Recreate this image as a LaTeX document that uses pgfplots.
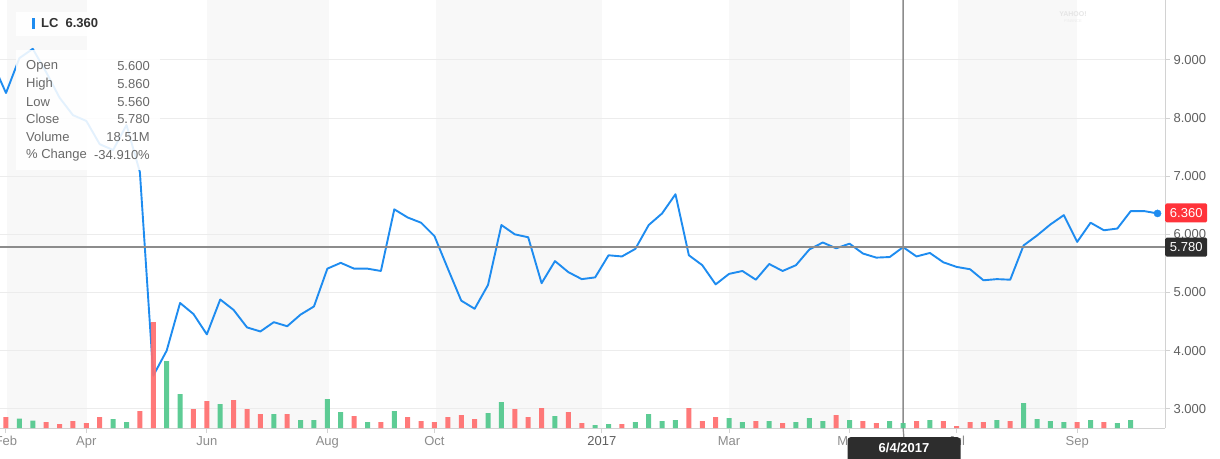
\documentclass[border=0pt]{standalone}
\usepackage{fontspec}
\setmainfont{Liberation Sans}
\usepackage{pgfplots}
\usepackage{pgfplotstable}
\pgfplotsset{compat=1.18}

\definecolor{lineblue}{RGB}{30,140,240}
\definecolor{volred}{RGB}{255,110,110}
\definecolor{volgreen}{RGB}{80,200,140}
\definecolor{band}{RGB}{248,248,248}
\definecolor{gridc}{RGB}{236,236,236}
\definecolor{axisc}{RGB}{210,210,210}
\definecolor{ticklab}{RGB}{95,95,95}
\definecolor{xlab}{RGB}{140,140,140}
\definecolor{cross}{RGB}{140,140,140}
\definecolor{darkbox}{RGB}{45,45,45}
\definecolor{pricered}{RGB}{255,51,58}
\definecolor{tiptext}{RGB}{105,105,105}

% weekly closes, week 0 = first week of Feb 2016
\pgfplotstableread{
k close
-1 8.95
0 8.43
1 9.03
2 9.19
3 8.79
4 8.35
5 8.05
6 7.95
7 7.55
8 7.45
9 7.88
10 7.07
11 3.57
12 4.00
13 4.82
14 4.63
15 4.28
16 4.88
17 4.70
18 4.40
19 4.33
20 4.49
21 4.42
22 4.62
23 4.76
24 5.41
25 5.51
26 5.41
27 5.41
28 5.37
29 6.43
30 6.29
31 6.20
32 5.97
33 5.41
34 4.86
35 4.72
36 5.13
37 6.16
38 6.00
39 5.95
40 5.16
41 5.54
42 5.35
43 5.23
44 5.26
45 5.64
46 5.62
47 5.75
48 6.16
49 6.36
50 6.69
51 5.64
52 5.47
53 5.14
54 5.32
55 5.37
56 5.22
57 5.49
58 5.37
59 5.47
60 5.74
61 5.86
62 5.76
63 5.84
64 5.67
65 5.60
66 5.61
67 5.78
68 5.62
69 5.68
70 5.52
71 5.44
72 5.40
73 5.21
74 5.23
75 5.22
76 5.81
77 5.98
78 6.17
79 6.33
80 5.87
81 6.20
82 6.07
83 6.10
84 6.40
85 6.40
86 6.36
}\pricetab

% volume in millions, down weeks
\pgfplotstableread{
k vol
0 40.7
3 22.2
4 14.8
5 25.9
6 18.5
7 40.7
10 62.9
11 392.2
14 70.3
15 99.9
17 103.6
18 70.3
19 51.8
21 51.8
26 44.4
28 22.2
30 40.7
31 25.9
32 22.2
33 40.7
34 48.1
35 33.3
38 70.3
39 40.7
40 74.0
42 59.2
43 18.5
46 14.8
51 74.0
52 25.9
53 40.7
56 25.9
58 18.5
62 48.1
64 25.9
65 18.5
68 25.9
70 25.9
71 7.4
72 22.2
73 22.2
75 25.9
80 22.2
82 22.2
}\voldown

% volume in millions, up weeks
\pgfplotstableread{
k vol
1 34.4
2 27.0
8 33.3
9 22.2
12 247.9
13 125.8
16 88.8
20 51.8
22 29.6
23 29.6
24 107.3
25 59.2
27 22.2
29 62.9
36 55.5
37 96.2
41 44.4
44 11.1
45 14.8
47 22.2
48 51.8
49 25.9
50 29.6
54 37.0
55 22.2
57 25.9
59 22.2
60 37.0
61 25.9
63 29.6
66 25.9
67 18.5
69 29.6
74 29.6
76 92.5
77 33.3
78 25.9
79 22.2
81 29.6
83 18.5
84 29.6
}\volup

\begin{document}
\begin{tikzpicture}[x=1pt,y=1pt]
\begin{axis}[
    at={(0,0)}, anchor=south west,
    scale only axis, width=1165pt, height=428pt,
    set layers, clip mode=individual,
    xmin=-0.448, xmax=86.56,
    ymin=2.67, ymax=10.03,
    axis x line*=bottom, axis y line*=right,
    axis line style={-, draw=axisc, line width=1pt},
    tick align=outside, major tick length=5pt,
    tick style={draw=axisc, line width=1pt},
    xtick={0,6,15,24,32,44.5,54,63,71,80},
    xticklabels={Feb,Apr,Jun,Aug,Oct,\textcolor{ticklab}{2017},Mar,May,Jul,Sep},
    xticklabel style={font=\fontsize{13}{15}\selectfont, text=xlab},
    ytick={3,4,5,6,7,8,9},
    yticklabel style={font=\fontsize{13}{15}\selectfont, text=ticklab},
    /pgf/number format/.cd, fixed, fixed zerofill, precision=3, assume math mode=true,
    /pgfplots/.cd,
    ymajorgrids, grid style={draw=gridc, line width=0.9pt},
]
\begin{pgfonlayer}{axis background}
\fill[band] (axis cs:0.075,2.67) rectangle (axis cs:6.05,10.03);
\fill[band] (axis cs:15.01,2.67) rectangle (axis cs:24.12,10.03);
\fill[band] (axis cs:32.11,2.67) rectangle (axis cs:44.51,10.03);
\fill[band] (axis cs:54.0,2.67) rectangle (axis cs:63.03,10.03);
\fill[band] (axis cs:71.1,2.67) rectangle (axis cs:79.99,10.03);
\end{pgfonlayer}
\addplot[lineblue, line width=1.9pt, line join=round] table[x=k, y=close] {\pricetab};
\addplot[only marks, mark=*, mark size=3.6pt, lineblue] coordinates {(86,6.36)};
% crosshair at week of 6/4/2017
\draw[cross, line width=1.3pt] (axis cs:67,10.03) -- (axis cs:67,2.67) -- ++(0,-10pt);
\draw[cross, line width=1.3pt] (axis cs:-0.448,5.78) -- (axis cs:86.56,5.78);
\node[anchor=west, fill=pricered, text=white, rounded corners=1.5pt, inner sep=0pt,
      minimum width=42pt, minimum height=19pt,
      font=\fontsize{13}{15}\selectfont] at (axis cs:86.56,6.37) {6.360};
\node[anchor=west, fill=darkbox, text=white, rounded corners=1.5pt, inner sep=0pt,
      minimum width=42pt, minimum height=19pt,
      font=\fontsize{13}{15}\selectfont] at (axis cs:86.56,5.78) {5.780};
\end{axis}

\begin{axis}[
    at={(0,0)}, anchor=south west,
    scale only axis, width=1165pt, height=428pt,
    xmin=-0.448, xmax=86.56,
    ymin=0, ymax=1583.6,
    hide axis,
    ybar=0pt, bar width=5pt,
]
\addplot[fill=volred, draw=none, fill opacity=0.92, bar shift=0pt] table[x=k, y=vol] {\voldown};
\addplot[fill=volgreen, draw=none, fill opacity=0.92, bar shift=0pt] table[x=k, y=vol] {\volup};
\end{axis}

% date flag of the crosshair
\node[anchor=north, fill=darkbox, text=white, rounded corners=3pt, minimum width=113pt,
      minimum height=26pt] at (904,-9) {};
\node[text=white, font=\bfseries\fontsize{13}{15}\selectfont] at (904,-19.5) {6/4/2017};

% tooltip
\fill[white, fill opacity=0.9] (16,392) rectangle (104,416);
\fill[lineblue] (32,399) rectangle (35,410);
\node[anchor=west, inner sep=0pt, text={rgb,255:red,50;green,50;blue,50},
      font=\bfseries\fontsize{13}{15}\selectfont] at (41,404.5) {LC\hspace{7pt}6.360};
\fill[white, fill opacity=0.88] (16,258) rectangle (160,378);
\begin{scope}[every node/.style={inner sep=0pt, text=tiptext, font=\fontsize{13}{15}\selectfont}]
\node[anchor=west] at (26,362) {Open};     \node[anchor=east] at (150,362) {5.600};
\node[anchor=west] at (26,344) {High};     \node[anchor=east] at (150,344) {5.860};
\node[anchor=west] at (26,326) {Low};      \node[anchor=east] at (150,326) {5.560};
\node[anchor=west] at (26,309) {Close};    \node[anchor=east] at (150,309) {5.780};
\node[anchor=west] at (26,291) {Volume};   \node[anchor=east] at (150,291) {18.51M};
\node[anchor=west] at (26,273) {\% Change}; \node[anchor=east] at (150,273) {-34.910\%};
\end{scope}

% faint watermark
\node[text=black!10, font=\bfseries\fontsize{7}{8}\selectfont, inner sep=0pt] at (1073,414) {YAHOO!};
\node[text=black!8, font=\fontsize{4}{5}\selectfont, inner sep=0pt] at (1073,407) {FINANCE};

\pgfresetboundingbox
\path[use as bounding box] (0,-30) rectangle (1220,428);
\end{tikzpicture}
\end{document}
